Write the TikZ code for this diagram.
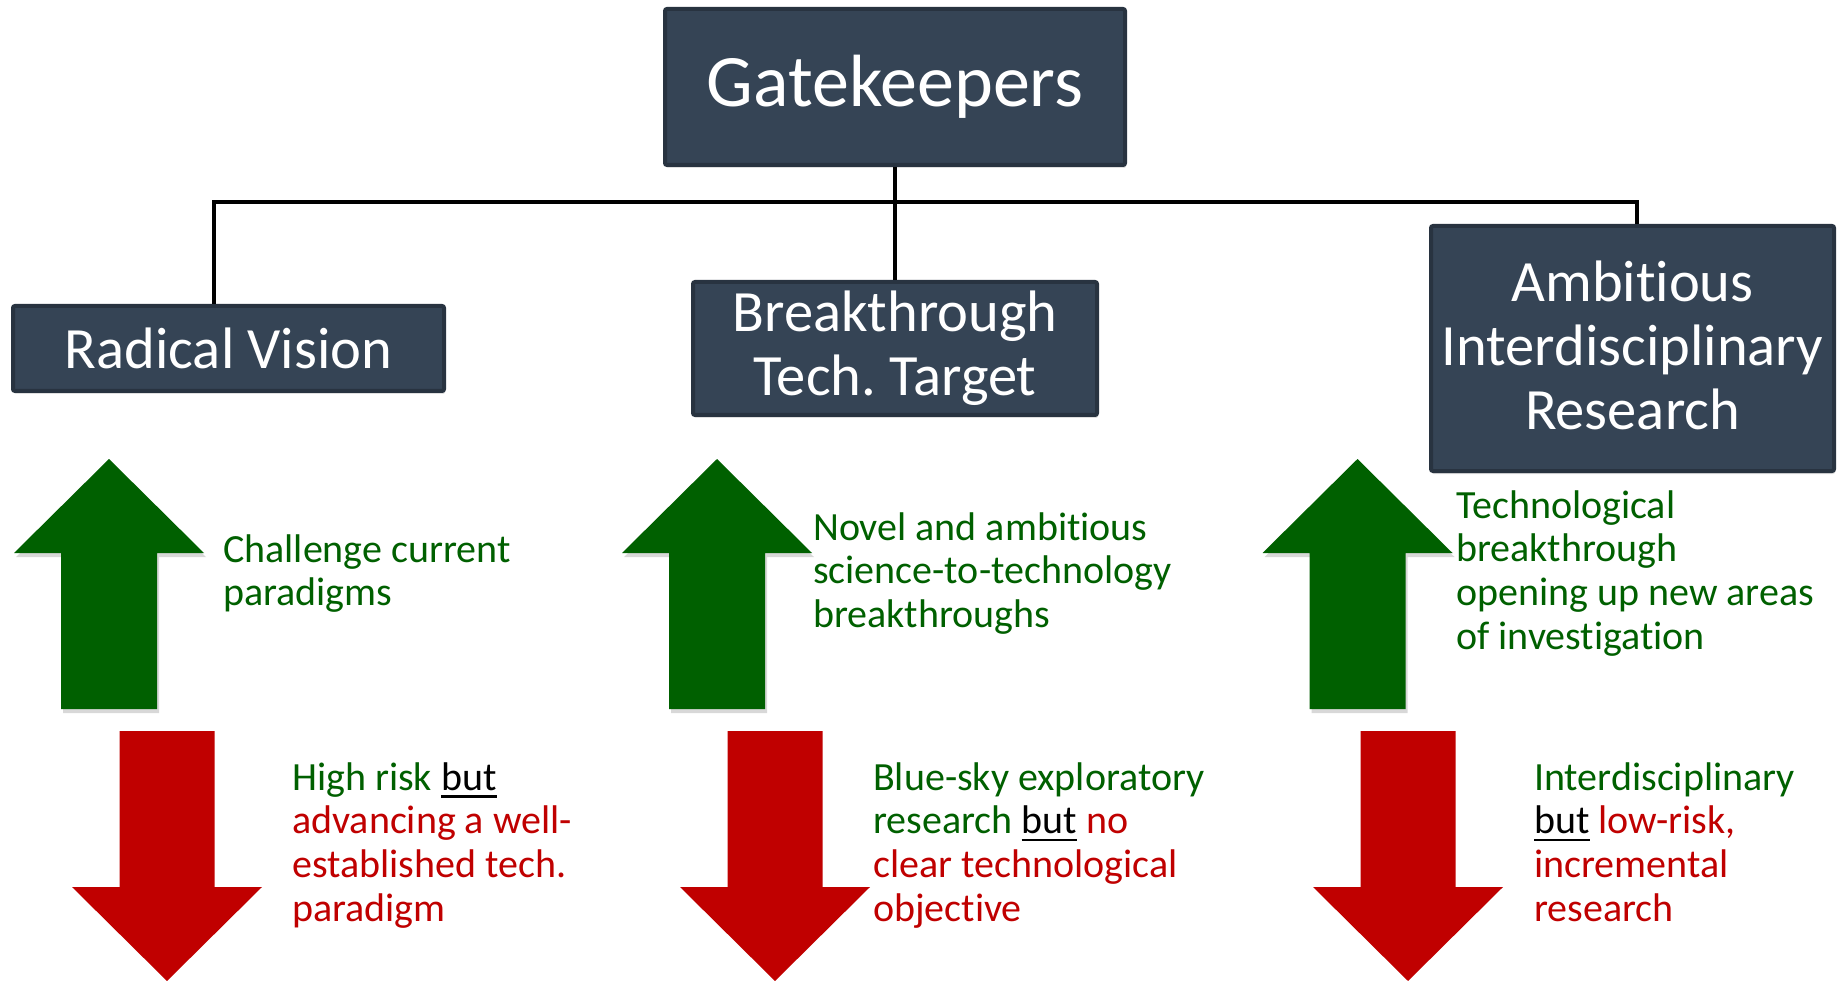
\documentclass[tikz,border=0pt]{standalone}
\usepackage{fontspec}
\setmainfont[Ligatures=NoCommon]{Carlito}
\frenchspacing
\usetikzlibrary{shadows}
\definecolor{boxfill}{RGB}{53,68,85}
\definecolor{boxedge}{RGB}{40,51,64}
\definecolor{cgreen}{RGB}{0,96,0}
\definecolor{cred}{RGB}{192,0,0}
\newcommand\ulbut{{\color{black}\setbox0\hbox{but}\rlap{\rule[-7.5pt]{\wd0}{2.4pt}}but}}
\newcommand\greenarrow[1]{%
  \fill[cgreen, arrowshadow] (#1-95,553) -- (#1,459) -- (#1+95,553) -- (#1+48,553)
    -- (#1+48,709) -- (#1-48,709) -- (#1-48,553) -- cycle;}
\newcommand\redarrow[1]{%
  \fill[cred] (#1-47.5,731) -- (#1+47.5,731) -- (#1+47.5,887) -- (#1+95,887)
    -- (#1,981) -- (#1-95,887) -- (#1-47.5,887) -- cycle;}
\begin{document}
\begin{tikzpicture}[x=1pt,y=-1pt,
  titlebox/.style={draw=boxedge, fill=boxfill, line width=4pt, rounded corners=2pt,
    text=white, align=center, inner sep=0pt,
    drop shadow={opacity=0.25, shadow xshift=1pt, shadow yshift=-3pt}},
  subtitle/.style={titlebox, font=\fontsize{58.5}{64}\selectfont},
  bodytext/.style={anchor=base west, inner sep=0pt, font=\fontsize{40}{43.7}\selectfont},
  arrowshadow/.style={drop shadow={opacity=0.3, shadow xshift=2pt, shadow yshift=-4pt}},
  conn/.style={line width=4pt, black},
  connshadow/.style={line width=4pt, black, opacity=0.18, yshift=-4pt, xshift=1pt}]
\useasboundingbox (0,0) rectangle (1837,981);
\fill[white] (0,0) rectangle (1837,981);

% boxes
\node[titlebox, font=\fontsize{74}{80}\selectfont, minimum width=460pt, minimum height=156pt]
  (gk) at (895,87) {Gatekeepers};
\node[subtitle, minimum width=431pt, minimum height=85pt] (rv) at (228.5,348.5) {Radical Vision};
\node[subtitle, minimum width=404pt, minimum height=133pt] (bt) at (895,348.5) {Breakthrough\\Tech. Target};
\node[subtitle, minimum width=403pt, minimum height=245pt] (air) at (1632.5,348.5)
  {Ambitious\\Interdisciplinary\\Research\rule[-6pt]{0pt}{0pt}};

% connectors
\coordinate (hl) at (214,202);
\coordinate (hr) at (1637,202);
\draw[connshadow] (hl) -- (hr);
\draw[conn] (gk.south) -- (bt.north);
\draw[conn] (hl |- rv.north) -- (hl) -- (hr) -- (hr |- air.north);

% arrows
\greenarrow{109}
\greenarrow{717}
\greenarrow{1357.5}
\redarrow{167}
\redarrow{775}
\redarrow{1408}

% texts
\node[bodytext, text=cgreen] (t1) at (223,562)
  {\begin{tabular}[t]{@{}l@{}}Challenge current\\paradigms\end{tabular}};
\node[bodytext, text=cgreen] (t2) at (813,540)
  {\begin{tabular}[t]{@{}l@{}}Novel and ambitious\\science-to-technology\\breakthroughs\end{tabular}};
\node[bodytext, text=cgreen] (t3) at (1456,518)
  {\begin{tabular}[t]{@{}l@{}}Technological\\breakthrough\\opening up new areas\\of investigation\end{tabular}};
\node[bodytext, text=cred] (t4) at (292,790)
  {\begin{tabular}[t]{@{}l@{}}\textcolor{cgreen}{High risk} \ulbut\\advancing a well-\\established tech.\\paradigm\end{tabular}};
\node[bodytext, text=cred] (t5) at (873,790)
  {\begin{tabular}[t]{@{}l@{}}\textcolor{cgreen}{Blue-sky exploratory}\\\textcolor{cgreen}{research} \ulbut{} no\\clear technological\\objective\end{tabular}};
\node[bodytext, text=cred] (t6) at (1534,790)
  {\begin{tabular}[t]{@{}l@{}}\textcolor{cgreen}{Interdisciplinary}\\\ulbut{} low-risk,\\incremental\\research\end{tabular}};
\end{tikzpicture}
\end{document}
